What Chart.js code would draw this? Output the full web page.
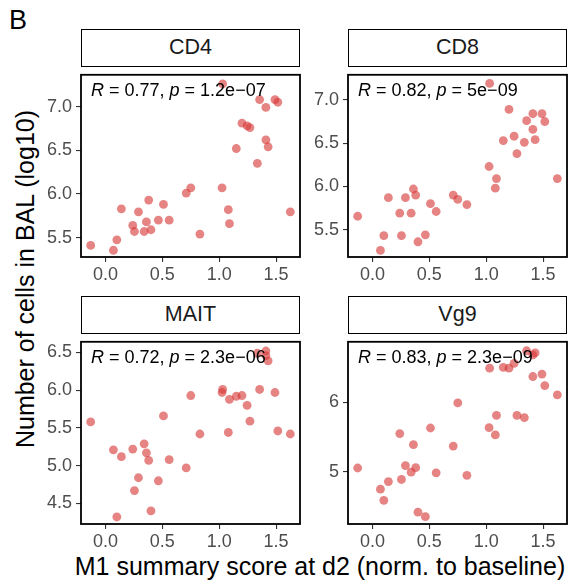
<!DOCTYPE html>
<html>
<head>
<meta charset="utf-8">
<script src="https://cdn.jsdelivr.net/npm/chart.js@4.4.1/dist/chart.umd.min.js"></script>
<style>
  body {
    margin: 0;
    width: 569px;
    height: 583px;
    position: relative;
    overflow: hidden;
    background: #fff;
    font-family: "Liberation Sans", Arial, sans-serif;
  }
  canvas { position: absolute; }
  .strip {
    position: absolute;
    box-sizing: border-box;
    border: 1.8px solid #000;
    background: #fff;
    text-align: center;
    font-size: 21.5px;
    color: #1a1a1a;
  }
  .stat {
    position: absolute;
    font-size: 18px;
    line-height: 18px;
    color: #000;
    white-space: nowrap;
  }
  .title {
    position: absolute;
    font-size: 25px;
    color: #000;
    white-space: nowrap;
    transform: translate(-50%, -50%);
  }
</style>
</head>
<body>
<div class="title" style="transform:none;font-size:27px;line-height:27px;left:9px;top:7px">B</div>
<div class="title" id="y-title" style="left:25px;top:279px;transform:translate(-50%,-50%) rotate(-90deg)">Number of cells in BAL (log10)</div>
<div class="title" id="x-title" style="left:320px;top:566px">M1 summary score at d2 (norm. to baseline)</div>
<script>
// M1 score (shared x) and cell counts per subset
const m1Score = [-0.13, 0.07, 0.10, 0.14, 0.24, 0.255, 0.29, 0.34, 0.36, 0.38, 0.40, 0.465, 0.51, 0.56, 0.71, 0.75, 0.83,
  1.03, 1.025, 1.08, 1.09, 1.15, 1.20, 1.245, 1.27, 1.335, 1.355, 1.41, 1.41, 1.43, 1.49, 1.515, 1.625];
const cd4 = [5.41, 5.355, 5.475, 5.83, 5.64, 5.57, 5.795, 5.57, 5.68, 5.93, 5.59, 5.70, 5.88, 5.70, 6.01, 6.07, 5.54,
  7.26, 6.07, 5.82, 5.66, 6.52, 6.81, 6.78, 6.76, 6.35, 7.08, 6.99, 6.62, 6.54, 7.08, 7.05, 5.795];
const cd8 = [5.655, 5.26, 5.43, 5.87, 5.69, 5.43, 5.87, 5.69, 5.97, 5.90, 5.36, 5.44, 5.80, 5.71, 5.90, 5.85, 5.79,
  7.19, 6.23, 5.98, 6.09, 6.53, 6.89, 6.58, 6.38, 6.51, 6.76, 6.84, 6.66, 6.54, 6.84, 6.75, 6.09];
const mait = [5.58, 5.21, 4.32, 5.12, 5.22, 4.67, 4.84, 5.29, 5.17, 5.07, 4.40, 4.80, 5.66, 5.08, 4.97, 5.93, 5.42,
  6.01, 5.97, 5.44, 5.88, 5.92, 5.93, 5.80, 5.59, 6.49, 6.01, 6.52, 6.46, 6.39, 5.97, 5.46, 5.42];
const vg9 = [5.055, 4.75, 4.59, 4.86, 5.55, 4.89, 5.09, 4.995, 5.39, 5.06, 4.42, 4.355, 5.63, 4.985, 5.37, 5.99, 4.95,
  6.49, 5.635, 5.53, 5.81, 6.50, 6.49, 6.56, 5.81, 5.78, 6.74, 6.68, 6.37, 6.71, 6.405, 6.24, 6.105];

const panelNames = ["CD4", "CD8", "MAIT", "Vg9"];
const rValues = ["0.77", "0.82", "0.72", "0.83"];
const pValues = ["1.2e\u221207", "5e\u221209", "2.3e\u221206", "2.3e\u221209"];
const xTicks = [0, 0.5, 1, 1.5];
const yTicks = [[5.5, 6, 6.5, 7], [5.5, 6, 6.5, 7], [4.5, 5, 5.5, 6, 6.5], [5, 6]];
const yRanges = [[5.278, 7.364], [5.184, 7.29], [4.227, 6.642], [4.25, 6.869]];
const series = [cd4, cd8, mait, vg9];

// layout of the 2x2 facets
const colLeft = [81, 348];
const rowTop = [66, 333];
const panelW = 219;
const panelH = 191;
const stripH = 37;
const axisW = 45;
const axisH = 28;
const padTop = 6;
const padRight = 10;
const fontFamily = "'Liberation Sans', Arial, sans-serif";

// panel border drawn on top of points
const borderPlugin = {
  id: "panelBorder",
  afterDraw(chart) {
    const { ctx, chartArea } = chart;
    ctx.save();
    ctx.strokeStyle = "#000";
    ctx.lineWidth = 1.8;
    ctx.strokeRect(chartArea.left, chartArea.top, chartArea.right - chartArea.left, chartArea.bottom - chartArea.top);
    ctx.restore();
  },
};

const tickStyle = {
  color: "#4d4d4d",
  font: { size: 18, family: fontFamily },
  autoSkip: false,
  maxRotation: 0,
};
const gridStyle = { drawOnChartArea: false, tickLength: 5, color: "#333", lineWidth: 1.1 };

panelNames.forEach((name, i) => {
  const left = colLeft[i % 2];
  const top = rowTop[Math.floor(i / 2)];

  // canvas
  const canvas = document.createElement("canvas");
  canvas.width = axisW + panelW + padRight;
  canvas.height = padTop + panelH + axisH;
  canvas.style.left = left - axisW + "px";
  canvas.style.top = top - padTop + "px";
  document.body.appendChild(canvas);

  const ys = series[i];
  const digits = i === 3 ? 0 : 1;

  new Chart(canvas, {
    type: "scatter",
    data: {
      datasets: [
        {
          data: m1Score.map((x, k) => ({ x: x, y: ys[k] })),
          backgroundColor: "rgba(215, 55, 55, 0.62)",
          borderWidth: 0,
          pointRadius: 4.4,
          pointHoverRadius: 4.4,
        },
      ],
    },
    options: {
      responsive: false,
      animation: false,
      events: [],
      layout: { padding: { top: padTop, right: padRight, left: 0, bottom: 0 } },
      plugins: { legend: { display: false }, tooltip: { enabled: false } },
      scales: {
        x: {
          type: "linear",
          min: -0.215,
          max: 1.71,
          afterBuildTicks: (s) => { s.ticks = xTicks.map((v) => ({ value: v })); },
          afterFit: (s) => { s.height = axisH; },
          ticks: { ...tickStyle, padding: 2, callback: (v) => Number(v).toFixed(1) },
          grid: gridStyle,
          border: { display: false },
        },
        y: {
          type: "linear",
          min: yRanges[i][0],
          max: yRanges[i][1],
          afterBuildTicks: (s) => { s.ticks = yTicks[i].map((v) => ({ value: v })); },
          afterFit: (s) => { s.width = axisW; },
          ticks: { ...tickStyle, padding: 4, callback: (v) => Number(v).toFixed(digits) },
          grid: gridStyle,
          border: { display: false },
        },
      },
    },
    plugins: [borderPlugin],
  });

  // facet strip
  const strip = document.createElement("div");
  strip.className = "strip";
  strip.style.left = left + "px";
  strip.style.top = top - stripH + "px";
  strip.style.width = panelW + "px";
  strip.style.height = stripH + 1 + "px";
  strip.style.lineHeight = stripH - 2 + "px";
  strip.textContent = name;
  document.body.appendChild(strip);

  // correlation label
  const stat = document.createElement("div");
  stat.className = "stat";
  stat.style.left = left + 10 + "px";
  stat.style.top = top + 15 + "px";
  stat.innerHTML = `<i>R</i> = ${rValues[i]}, <i>p</i> = ${pValues[i]}`;
  document.body.appendChild(stat);
});
</script>
</body>
</html>
